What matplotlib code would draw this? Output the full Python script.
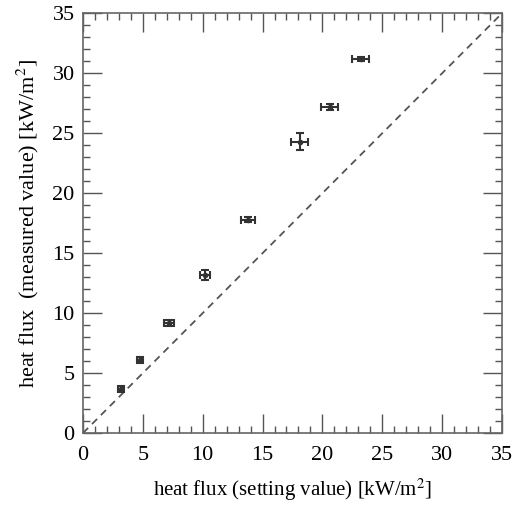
import matplotlib.pyplot as plt
from matplotlib.ticker import MultipleLocator

# setting value vs measured value of heat flux
setting = [3.2, 4.8, 7.2, 10.2, 13.8, 18.1, 20.6, 23.2]
measured = [3.7, 6.1, 9.2, 13.2, 17.8, 24.3, 27.2, 31.2]
x_err = [0.25, 0.25, 0.4, 0.4, 0.6, 0.7, 0.7, 0.7]
y_err = [0.25, 0.25, 0.25, 0.4, 0.2, 0.7, 0.25, 0.2]

plt.rcParams['font.family'] = ['Liberation Serif', 'DejaVu Serif']
plt.rcParams['mathtext.fontset'] = 'stix'

fig = plt.figure(figsize=(5.19, 5.08), dpi=100)
ax = fig.add_axes([0.160, 0.1476, 0.807, 0.826])

ax.plot([0, 35], [0, 35], linestyle=(0, (4, 3)), color='#555555', linewidth=1.3)
ax.errorbar(setting, measured, xerr=x_err, yerr=y_err, fmt='o', color='#333333',
            markersize=3, ecolor='#333333',
            elinewidth=1.5, capsize=3, capthick=1.5)

ax.set_xlim(0, 35)
ax.set_ylim(0, 35)
ax.xaxis.set_major_locator(MultipleLocator(5))
ax.yaxis.set_major_locator(MultipleLocator(5))
ax.xaxis.set_minor_locator(MultipleLocator(1))
ax.yaxis.set_minor_locator(MultipleLocator(1))
ax.tick_params(which='both', direction='in', top=True, right=True, labelsize=16, color='#555555')
ax.tick_params(which='major', length=14, width=1)
ax.tick_params(which='minor', length=5, width=1)
ax.tick_params(axis='x', pad=9)
ax.tick_params(axis='y', pad=6)
for s in ax.spines.values():
    s.set_color('#666666')
    s.set_linewidth(1.2)

ax.set_xlabel('heat flux (setting value) [kW/m$^2$]', fontsize=15, labelpad=9)
ax.set_ylabel('heat flux  (measured value) [kW/m$^2$]', fontsize=16, labelpad=8)

fig.savefig('out.png', dpi=100)
